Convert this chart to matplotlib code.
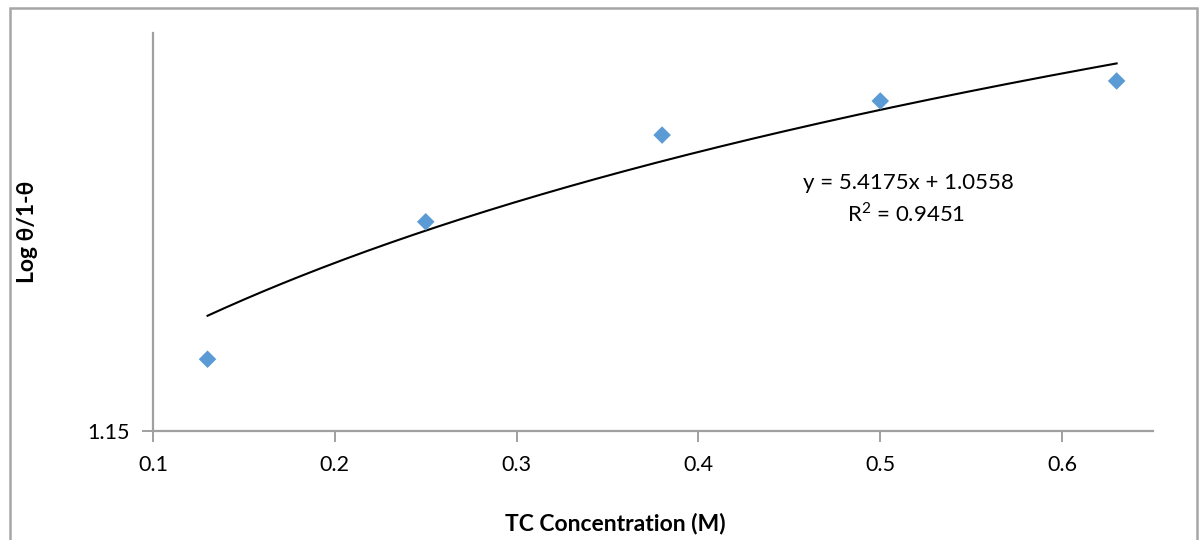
import numpy as np
import matplotlib
matplotlib.use('Agg')
import matplotlib.pyplot as plt
from matplotlib.patches import Rectangle
from matplotlib.ticker import NullLocator, FixedLocator, FixedFormatter

plt.rcParams['font.family'] = ['Lato', 'DejaVu Sans']
plt.rcParams['mathtext.fontset'] = 'custom'
plt.rcParams['mathtext.rm'] = 'Lato'

# data (y axis is logarithmic)
tc_conc = [0.13, 0.25, 0.38, 0.50, 0.63]
log_theta = [1.499, 2.490, 3.430, 3.890, 4.188]

# linear trendline reported on the chart
slope = 5.4175
intercept = 1.0558
r2 = 0.9451

x_ticks = [0.1, 0.2, 0.3, 0.4, 0.5, 0.6]
y_ticks = [1.15]

fig = plt.figure(figsize=(12.04, 5.4), dpi=100)
ax = fig.add_axes([153 / 1204, 109 / 540, 1000 / 1204, 398 / 540])

# outer chart border
fig.add_artist(Rectangle((9.5 / 1204, -0.05), 1187.5 / 1204, 1.05 - 7.5 / 540,
                         transform=fig.transFigure, fill=False,
                         edgecolor='#a6a6a6', linewidth=1.8, clip_on=False))

ax.scatter(tc_conc, log_theta, marker='D', s=80, color='#5b9bd5',
           edgecolor='none', zorder=3)

xfit = np.linspace(min(tc_conc), max(tc_conc), 200)
ax.plot(xfit, slope * xfit + intercept, color='black', linewidth=1.5, zorder=2)

ax.set_yscale('log')
ax.set_xlim(0.1, 0.65)
ax.set_ylim(1.15, 5.0)

ax.xaxis.set_major_locator(FixedLocator(x_ticks))
ax.xaxis.set_major_formatter(FixedFormatter([f'{t:g}' for t in x_ticks]))
ax.yaxis.set_major_locator(FixedLocator(y_ticks))
ax.yaxis.set_major_formatter(FixedFormatter([f'{t:g}' for t in y_ticks]))
ax.yaxis.set_minor_locator(NullLocator())
ax.xaxis.set_minor_locator(NullLocator())

for s in ['top', 'right']:
    ax.spines[s].set_visible(False)
for s in ['left', 'bottom']:
    ax.spines[s].set_color('#a0a0a0')
    ax.spines[s].set_linewidth(1.6)

ax.tick_params(axis='both', direction='out', length=8, width=1.4,
               color='#a0a0a0', labelsize=15.5, labelcolor='black')
ax.tick_params(axis='x', pad=9)
ax.tick_params(axis='y', pad=9)

ax.text(908 / 1204, 1 - 183 / 540, f'y = {slope}x + {intercept}',
        transform=fig.transFigure, ha='center', va='center', fontsize=16)
ax.text(906 / 1204, 1 - 214 / 540, 'R$^{\\mathrm{2}}$' + f' = {r2}',
        transform=fig.transFigure, ha='center', va='center', fontsize=16)

fig.text(615 / 1204, 1 - 524 / 540, 'TC Concentration (M)', ha='center',
         va='center', fontsize=16.5, fontweight='bold')
fig.text(28 / 1204, 1 - 232 / 540, 'Log θ/1-θ', ha='center', va='center',
         rotation=90, fontsize=16.5, fontweight='bold')

fig.savefig('out.png', dpi=100)
